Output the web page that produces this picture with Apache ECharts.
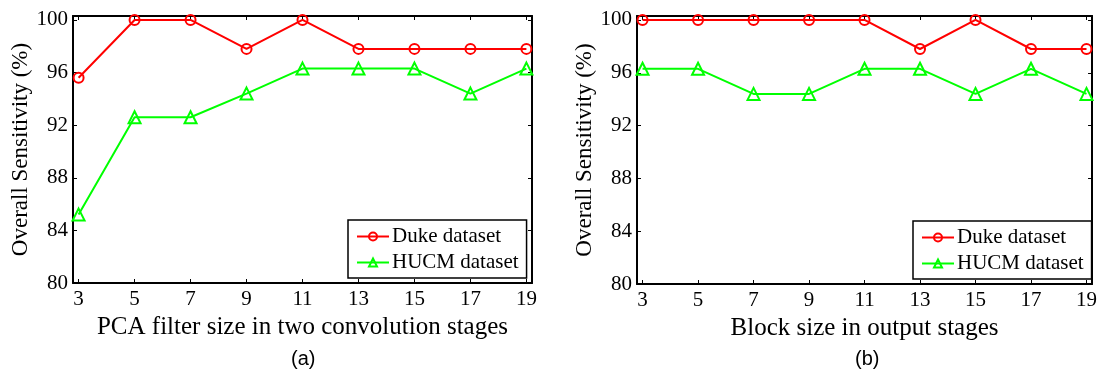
<!DOCTYPE html>
<html>
<head>
<meta charset="utf-8">
<script src="https://cdn.jsdelivr.net/npm/echarts@6/dist/echarts.min.js"></script>
<style>
  html, body { margin: 0; padding: 0; background: #fff; }
  #chart { width: 1100px; height: 375px; }
</style>
</head>
<body>
<div id="chart"></div>
<script>
// x 轴取值 (滤波器大小 / 块大小)
var sizes = [3, 5, 7, 9, 11, 13, 15, 17, 19];
var yTicks = [80, 84, 88, 92, 96, 100];

// (a) PCA filter size
var dukeA = [95.6, 100, 100, 97.8, 100, 97.8, 97.8, 97.8, 97.8];
var hucmA = [85.2, 92.6, 92.6, 94.4, 96.3, 96.3, 96.3, 94.4, 96.3];

// (b) Block size
var dukeB = [100, 100, 100, 100, 100, 97.8, 100, 97.8, 97.8];
var hucmB = [96.3, 96.3, 94.4, 94.4, 96.3, 96.3, 94.4, 96.3, 94.4];

var seriesNames = ['Duke dataset', 'HUCM dataset'];
var panelNames = ['PCA filter size in two convolution stages', 'Block size in output stages'];

(function() {
    var myChart = echarts.init(document.getElementById('chart'));

    var serif = "'Liberation Serif', 'Times New Roman', serif";
    var black = '#000';

    function pairs(ys) {
        return sizes.map(function(x, i) { return [x, ys[i]]; });
    }

    var grids = [
        { left: 73, top: 16, width: 459, height: 267 },
        { left: 637, top: 16, width: 460, height: 268 }
    ];

    var xAxes = [];
    var yAxes = [];
    grids.forEach(function(g, gi) {
        // 底部 x 轴
        xAxes.push({
            type: 'value', gridIndex: gi, min: 2.8, max: 19.2, position: 'bottom',
            name: panelNames[gi], nameLocation: 'middle', nameGap: 28,
            nameTextStyle: { fontFamily: serif, fontSize: 25, color: black },
            axisLine: { onZero: false, lineStyle: { color: black, width: 2 } },
            axisTick: { inside: true, length: 4, customValues: sizes, lineStyle: { color: black } },
            axisLabel: { customValues: sizes, margin: 6, fontFamily: serif, fontSize: 21, color: black },
            splitLine: { show: false }
        });
        // 顶部 x 轴 (只有刻度)
        xAxes.push({
            type: 'value', gridIndex: gi, min: 2.8, max: 19.2, position: 'top',
            axisLine: { onZero: false, lineStyle: { color: black, width: 2 } },
            axisTick: { inside: true, length: 4, customValues: sizes, lineStyle: { color: black } },
            axisLabel: { show: false },
            splitLine: { show: false }
        });
        yAxes.push({
            type: 'value', gridIndex: gi, min: 80, max: 100.3, position: 'left',
            name: 'Overall Sensitivity (%)', nameLocation: 'middle', nameRotate: 90, nameGap: 40,
            nameTextStyle: { fontFamily: serif, fontSize: 23, color: black },
            axisLine: { onZero: false, show: true, lineStyle: { color: black, width: 2 } },
            axisTick: { show: true, inside: true, length: 4, customValues: yTicks, lineStyle: { color: black } },
            axisLabel: { customValues: yTicks, margin: 5, fontFamily: serif, fontSize: 21, color: black },
            splitLine: { show: false }
        });
        yAxes.push({
            type: 'value', gridIndex: gi, min: 80, max: 100.3, position: 'right',
            axisLine: { onZero: false, show: true, lineStyle: { color: black, width: 2 } },
            axisTick: { show: true, inside: true, length: 4, customValues: yTicks, lineStyle: { color: black } },
            axisLabel: { show: false },
            splitLine: { show: false }
        });
    });

    function lineSeries(name, data, gi, color, symbol, size) {
        return {
            name: name,
            type: 'line',
            xAxisIndex: gi * 2,
            yAxisIndex: gi * 2,
            data: pairs(data),
            symbol: symbol,
            symbolSize: size,
            showAllSymbol: true,
            lineStyle: { color: color, width: 2 },
            itemStyle: { color: 'transparent', borderColor: color, borderWidth: 2 },
            emphasis: { disabled: true },
            z: name === seriesNames[0] ? 3 : 2
        };
    }

    function legendAt(left, top) {
        return {
            data: seriesNames,
            orient: 'vertical',
            left: left,
            top: top,
            padding: [6, 8, 5, 8],
            itemGap: 5,
            itemWidth: 32,
            itemHeight: 10,
            backgroundColor: '#fff',
            borderColor: black,
            borderWidth: 1.5,
            borderRadius: 0,
            selectedMode: false,
            textStyle: { fontFamily: serif, fontSize: 21, color: black, lineHeight: 21, padding: [0, 0, 0, -2] }
        };
    }

    var option = {
        backgroundColor: '#fff',
        animation: false,
        title: [
            { text: '(a)', left: 286, top: 344, textStyle: { fontFamily: "'Liberation Sans', Arial, sans-serif", fontSize: 20, fontWeight: 'normal', color: black } },
            { text: '(b)', left: 850, top: 344, textStyle: { fontFamily: "'Liberation Sans', Arial, sans-serif", fontSize: 20, fontWeight: 'normal', color: black } }
        ],
        legend: [legendAt(348, 220), legendAt(913, 221)],
        grid: grids,
        xAxis: xAxes,
        yAxis: yAxes,
        series: [
            lineSeries(seriesNames[0], dukeA, 0, '#ff0000', 'circle', 10),
            lineSeries(seriesNames[1], hucmA, 0, '#00ff00', 'triangle', 12),
            lineSeries(seriesNames[0], dukeB, 1, '#ff0000', 'circle', 10),
            lineSeries(seriesNames[1], hucmB, 1, '#00ff00', 'triangle', 12)
        ]
    };

    myChart.setOption(option);
})();
</script>
</body>
</html>
